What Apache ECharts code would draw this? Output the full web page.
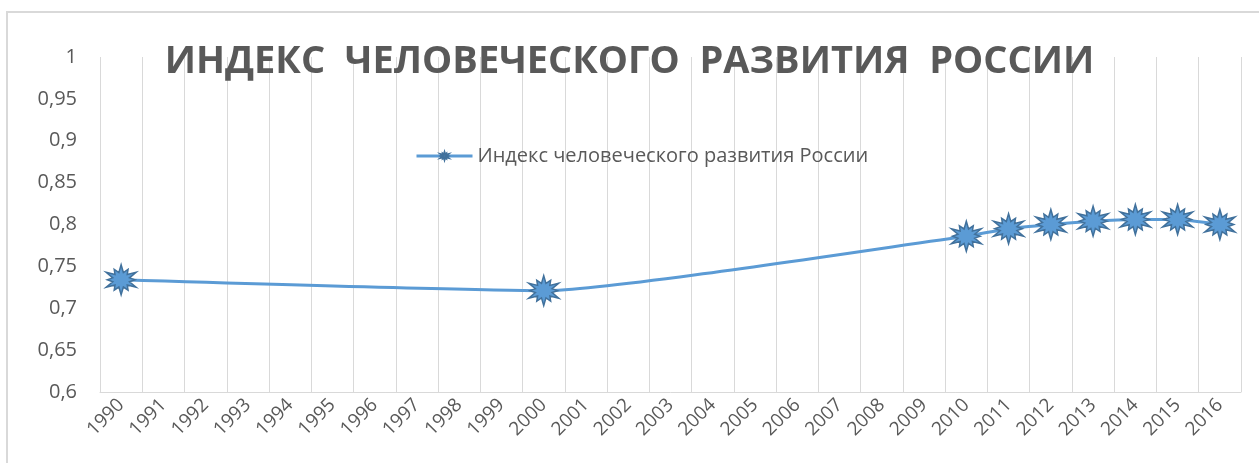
<!DOCTYPE html>
<html>
<head>
<meta charset="utf-8">
<script src="https://cdn.jsdelivr.net/npm/echarts@6/dist/echarts.min.js"></script>
<style>
  html, body { margin: 0; padding: 0; background: #fff; }
  #chart { width: 1259px; height: 463px; }
</style>
</head>
<body>
<div id="chart"></div>
<script>
const years = ['1990', '1991', '1992', '1993', '1994', '1995', '1996', '1997', '1998', '1999',
  '2000', '2001', '2002', '2003', '2004', '2005', '2006', '2007', '2008', '2009',
  '2010', '2011', '2012', '2013', '2014', '2015', '2016'];
const hdi = [0.734, null, null, null, null, null, null, null, null, null,
  0.721, null, null, null, null, null, null, null, null, null,
  0.786, 0.795, 0.800, 0.804, 0.806, 0.806, 0.800];
const seriesName = 'Индекс человеческого развития России';
const titleText = 'ИНДЕКС  ЧЕЛОВЕЧЕСКОГО  РАЗВИТИЯ  РОССИИ';

// explosion-like star marker
function starPath(spikes) {
  let d = '';
  for (let i = 0; i < spikes * 2; i++) {
    const r = i % 2 === 0 ? (i % 4 === 0 ? 1 : 0.8) : 0.5;
    const a = Math.PI * i / spikes - Math.PI / 2;
    d += (i === 0 ? 'M' : 'L') + (50 + 50 * r * Math.cos(a)).toFixed(2) + ' ' + (50 + 50 * r * Math.sin(a)).toFixed(2) + ' ';
  }
  return 'path://' + d + 'Z';
}

const chart = echarts.init(document.getElementById('chart'));
chart.setOption({
  animation: false,
  graphic: [{
    type: 'rect',
    shape: { x: 7, y: 12, width: 1270, height: 470 },
    style: { fill: 'none', stroke: '#d9d9d9', lineWidth: 2 },
    silent: true,
    z: -1
  }],
  title: {
    text: titleText,
    left: 'center',
    top: 38,
    textStyle: {
      fontFamily: 'Open Sans',
      fontWeight: 'bold',
      fontSize: 38,
      color: '#595959'
    }
  },
  legend: {
    data: [seriesName],
    left: 410,
    top: 141,
    itemWidth: 56,
    itemHeight: 9,
    itemGap: 6,
    lineStyle: { width: 3 },
    textStyle: { fontFamily: 'Open Sans', fontSize: 20, color: '#595959' }
  },
  grid: { left: 100, right: 18, top: 57, bottom: 71 },
  xAxis: {
    type: 'category',
    data: years,
    boundaryGap: true,
    axisLine: { lineStyle: { color: '#d9d9d9' } },
    axisTick: { show: false },
    splitLine: { show: true, lineStyle: { color: '#d9d9d9', width: 1 } },
    axisLabel: {
      rotate: 45,
      interval: 0,
      fontFamily: 'Open Sans',
      fontSize: 19,
      color: '#595959',
      margin: 10
    }
  },
  yAxis: {
    type: 'value',
    min: 0.6,
    max: 1,
    interval: 0.05,
    axisLine: { show: false },
    axisTick: { show: false },
    splitLine: { show: false },
    axisLabel: {
      fontFamily: 'Open Sans',
      fontSize: 20,
      color: '#595959',
      margin: 23,
      formatter: v => String(Math.round(v * 100) / 100).replace('.', ',')
    }
  },
  series: [{
    name: seriesName,
    type: 'line',
    data: hdi,
    connectNulls: true,
    smooth: 0.15,
    symbol: starPath(12),
    symbolSize: 30,
    lineStyle: { color: '#5b9bd5', width: 3 },
    itemStyle: { color: '#5b9bd5', borderColor: '#41719c', borderWidth: 1.5 }
  }]
});
</script>
</body>
</html>
